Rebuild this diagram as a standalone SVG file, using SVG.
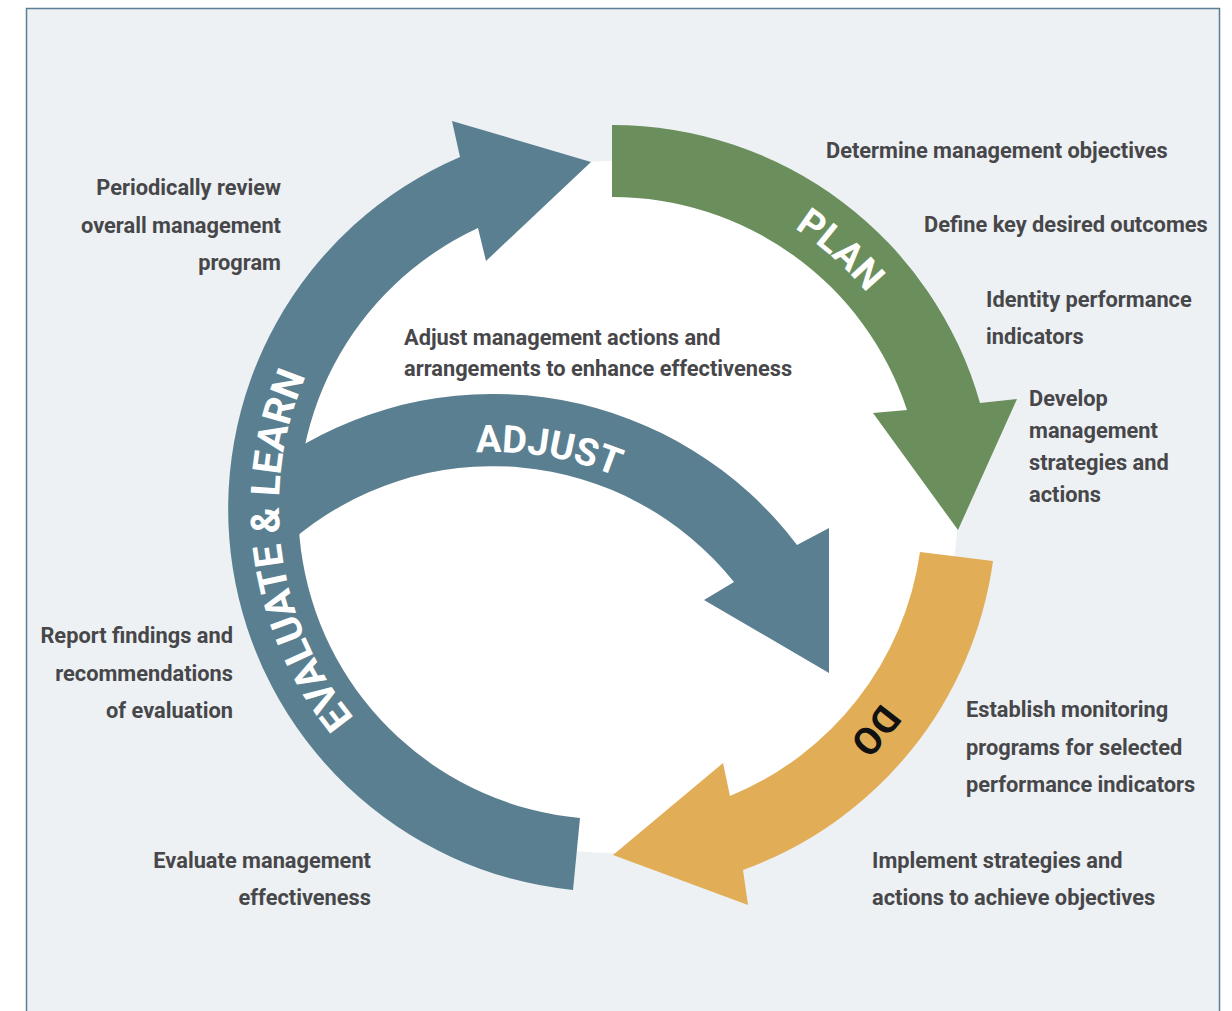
<svg xmlns="http://www.w3.org/2000/svg" width="1232" height="1011" viewBox="0 0 1232 1011">
<defs>
<style>
.bg{fill:#edf1f4;stroke:#5a7f90;stroke-width:1.5}
.lbl{font-family:Roboto,"Liberation Sans",sans-serif;font-weight:700;font-size:21.8px;fill:#47474a}
.r{text-anchor:end}
.arc{font-family:Roboto,"Liberation Sans",sans-serif;font-weight:700;font-size:38px;text-anchor:middle}
.big{font-size:40px}
.w{fill:#ffffff}
.k{fill:#111111}
</style>
<path id="pPlan" d="M679,180.8 A333 333 0 0 1 928,401.9"/>
<path id="pDo" d="M939.6,566.5 A333 333 0 0 1 724.3,820.5"/>
<path id="pEval" d="M482.4,813.8 A333 333 0 0 1 411.1,241.4"/>
<path id="pAdj" d="M381,472.1 A323 323 0 0 1 699.3,526.5"/>
</defs>
<rect x="0" y="0" width="1232" height="1011" fill="#ffffff"/>
<rect class="bg" x="26.5" y="8.5" width="1193" height="1020"/>
<circle cx="612" cy="507" r="346" fill="#ffffff"/>
<g id="connectors">
<path id="arrow-evaluate" fill="#5a7f90" d="M573,890 A383 383 0 0 1 460,157 L452,121 L591,162 L486,261 L478,228 A310 310 0 0 0 580,818 Z"/>
<path id="arrow-adjust" fill="#5a7f90" d="M290,452.6 A381 381 0 0 1 797,545 L829,528 L829,673 L704,600 L734,582 A309 309 0 0 0 290,542 Z"/>
<path id="arrow-plan" fill="#6b8f5c" d="M612,125 A382 382 0 0 1 980,403 L1017,399 L958,530 L873,413 L907,410 A310 310 0 0 0 612,197 Z"/>
<path id="arrow-do" fill="#e1ae57" d="M993,561 A384 384 0 0 1 743,870 L748,905 L613,855 L723,763 L730,796 A311 311 0 0 0 920,552 Z"/>
</g>
<g id="node-plan"><text class="arc w"><textPath href="#pPlan" startOffset="50%">PLAN</textPath></text></g>
<g id="node-do"><text class="arc k"><textPath href="#pDo" startOffset="50%">DO</textPath></text></g>
<g id="node-evaluate"><text class="arc big w"><textPath href="#pEval" startOffset="49.2%">EVALUATE &amp; LEARN</textPath></text></g>
<g id="node-adjust"><text class="arc w"><textPath href="#pAdj" startOffset="50%">ADJUST</textPath></text></g>
<g id="plan-notes">
<text class="lbl" x="826" y="158">Determine management objectives</text>
<text class="lbl" x="924" y="232">Define key desired outcomes</text>
<text class="lbl" x="986" y="307">Identity performance</text>
<text class="lbl" x="986" y="344">indicators</text>
<text class="lbl" x="1029" y="406">Develop</text>
<text class="lbl" x="1029" y="438">management</text>
<text class="lbl" x="1029" y="470">strategies and</text>
<text class="lbl" x="1029" y="502">actions</text>
</g>
<g id="do-notes">
<text class="lbl" x="966" y="717">Establish monitoring</text>
<text class="lbl" x="966" y="755">programs for selected</text>
<text class="lbl" x="966" y="792">performance indicators</text>
<text class="lbl" x="872" y="868">Implement strategies and</text>
<text class="lbl" x="872" y="905">actions to achieve objectives</text>
</g>
<g id="evaluate-notes">
<text class="lbl r" x="281" y="195">Periodically review</text>
<text class="lbl r" x="281" y="233">overall management</text>
<text class="lbl r" x="281" y="270">program</text>
<text class="lbl r" x="233" y="643">Report findings and</text>
<text class="lbl r" x="233" y="681">recommendations</text>
<text class="lbl r" x="233" y="718">of evaluation</text>
<text class="lbl r" x="371" y="868">Evaluate management</text>
<text class="lbl r" x="371" y="905">effectiveness</text>
</g>
<g id="adjust-notes">
<text class="lbl" x="404" y="345">Adjust management actions and</text>
<text class="lbl" x="404" y="376">arrangements to enhance effectiveness</text>
</g>
</svg>
